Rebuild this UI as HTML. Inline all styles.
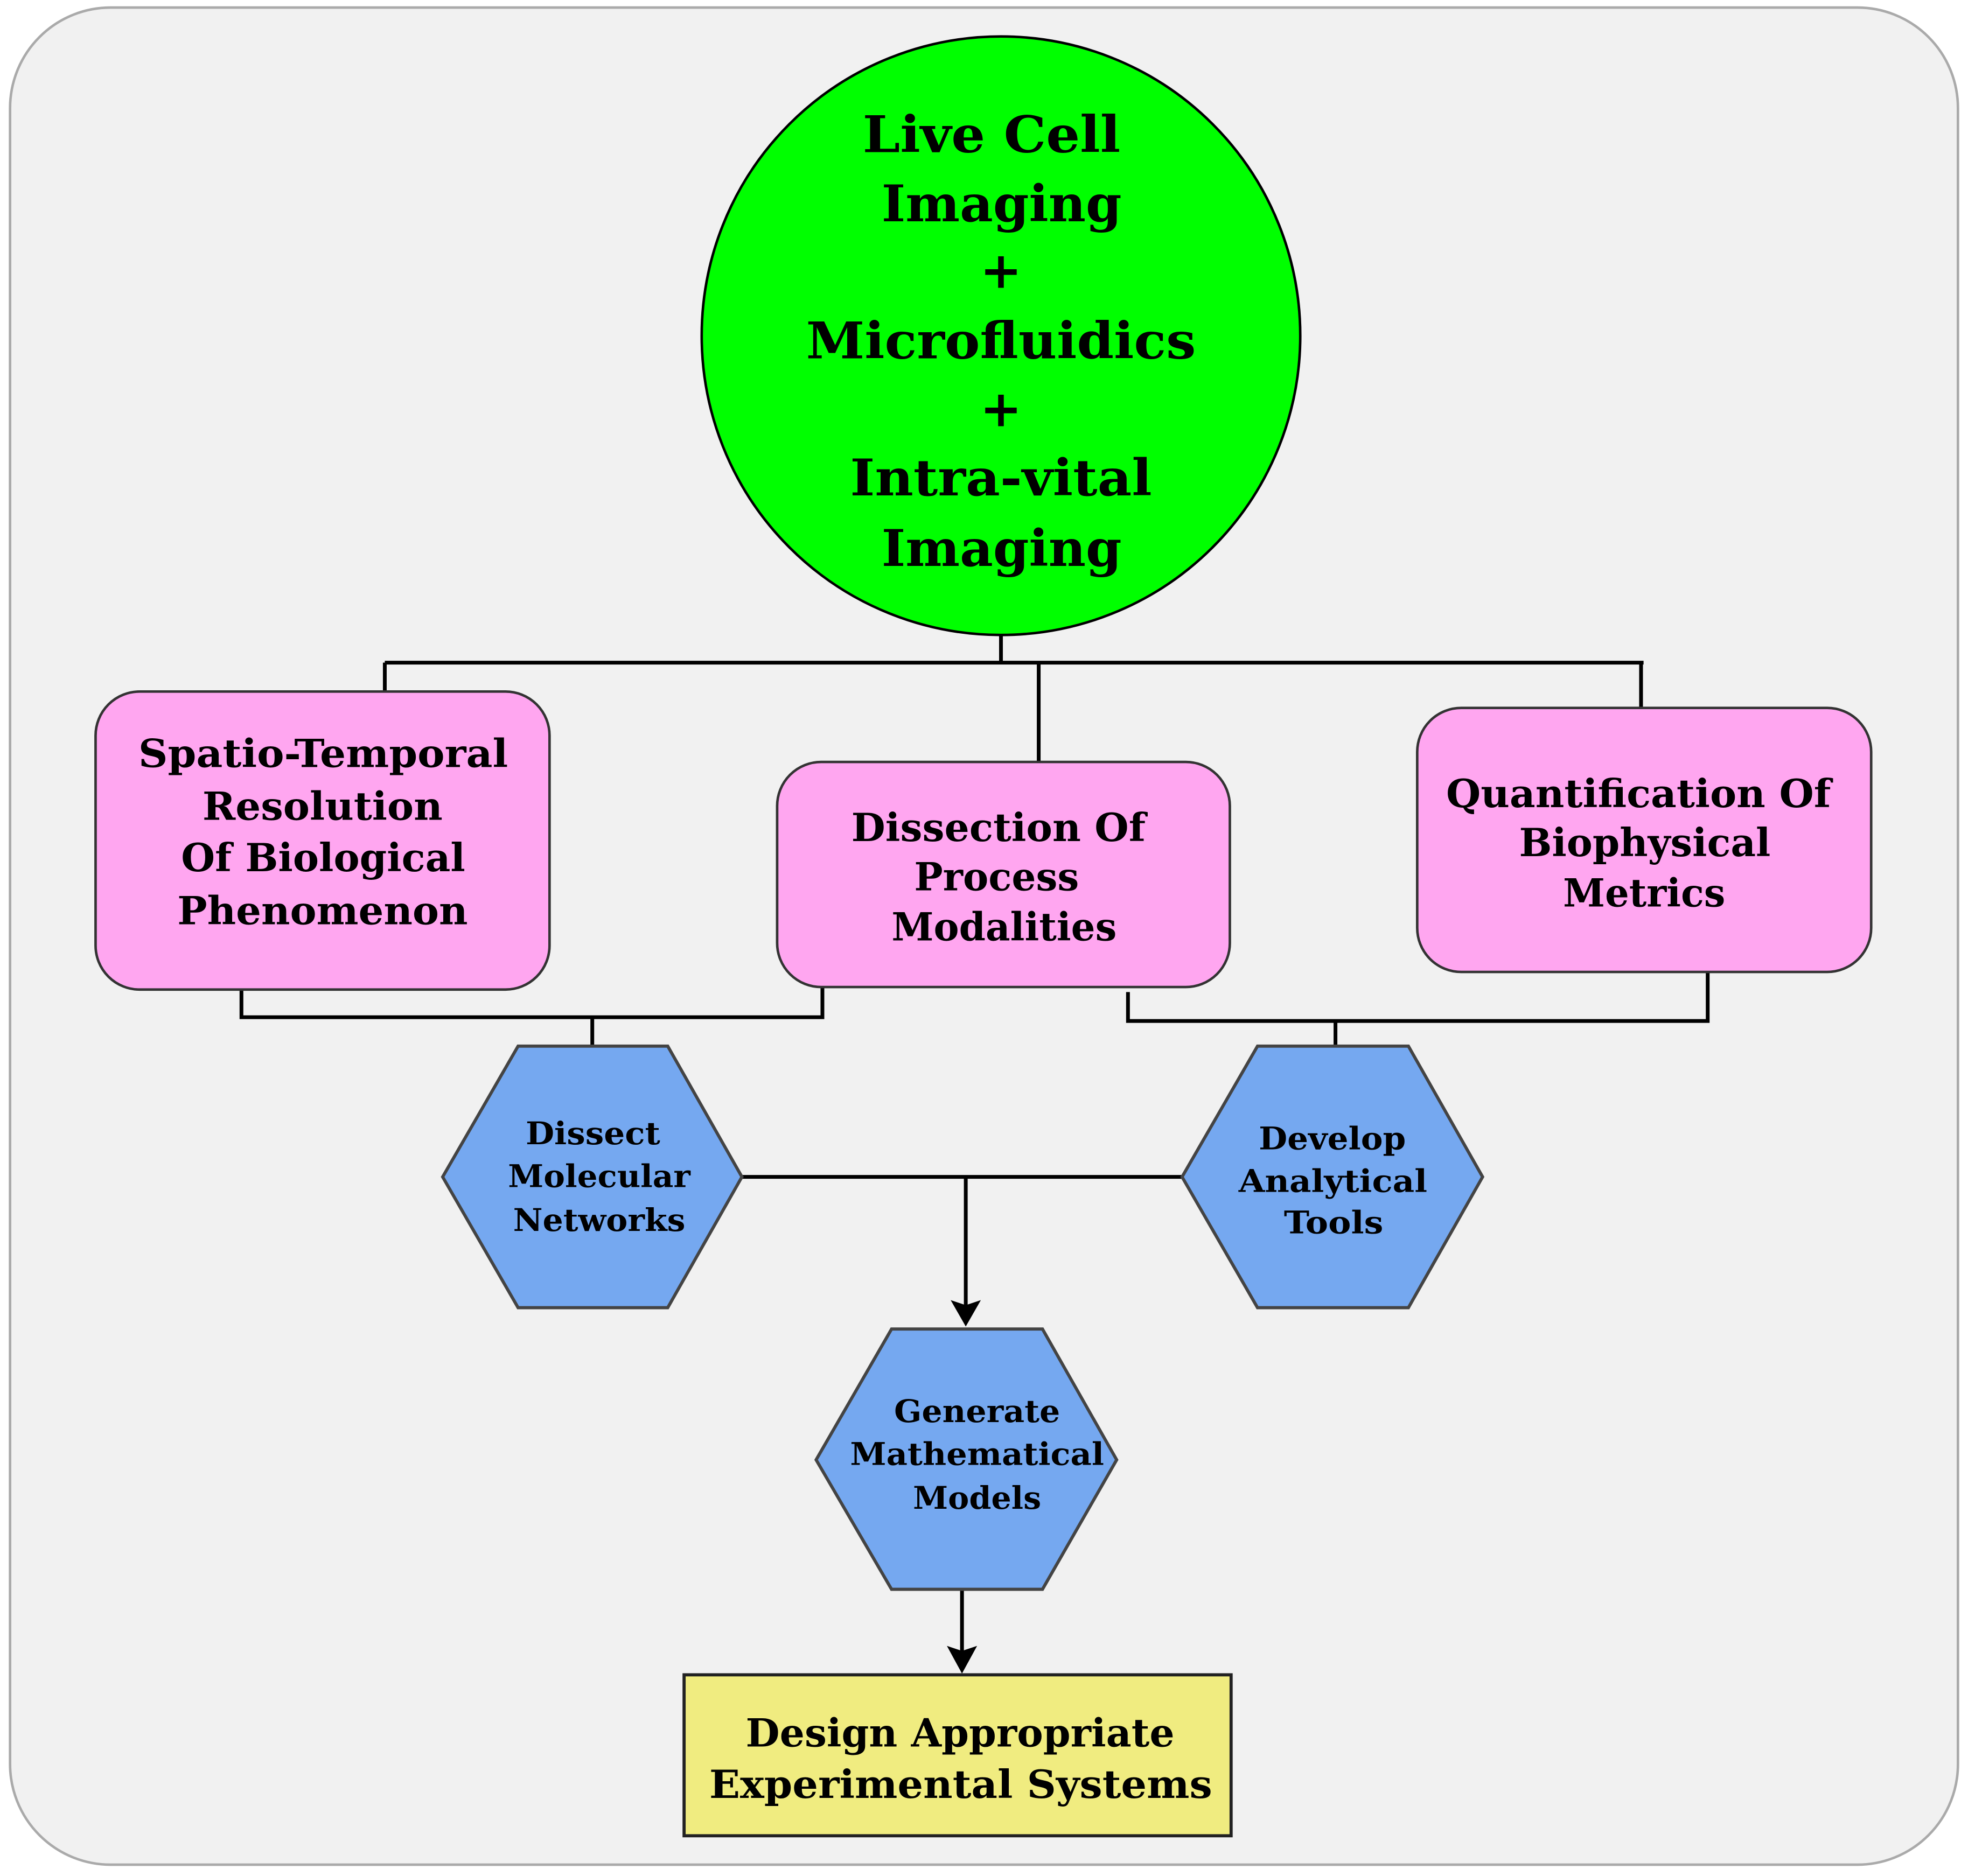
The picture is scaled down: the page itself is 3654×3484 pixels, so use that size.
<!DOCTYPE html>
<html><head><style>html,body{margin:0;padding:0;background:#fff}svg{display:block}</style></head>
<body>
<svg width="3654" height="3484" viewBox="0 0 1565 1492" xmlns="http://www.w3.org/2000/svg" preserveAspectRatio="none">
<rect x="8" y="6" width="1549" height="1477" rx="80" fill="#f1f1f1" stroke="#aaa" stroke-width="2"/>
<g stroke="#000" stroke-width="3" fill="none">
<path d="M796,505 V527 M306,527 H1307 M306,527 V550 M826,527 V606 M1305,527 V563"/>
<path d="M192,787 V809 H654 V785 M471,809 V832"/>
<path d="M897,789 V812 H1358 V773 M1062,812 V832"/>
<path d="M590,936 H940"/>
<path d="M768,936 V1040"/>
<path d="M765,1264 V1316"/>
</g>
<path d="M756,1034 L768,1038 L780,1034 L768,1055 Z" fill="#000"/>
<path d="M753,1309 L765,1313 L777,1309 L765,1331 Z" fill="#000"/>
<circle cx="796" cy="267" r="238" fill="#00ff00" stroke="#000" stroke-width="2"/>
<rect x="76" y="550" width="361" height="237" rx="35" fill="#ffa6f0" stroke="#333" stroke-width="2"/>
<rect x="618" y="606" width="360" height="179" rx="35" fill="#ffa6f0" stroke="#333" stroke-width="2"/>
<rect x="1127" y="563" width="361" height="210" rx="35" fill="#ffa6f0" stroke="#333" stroke-width="2"/>
<g fill="#75a8f0" stroke="#444" stroke-width="2.5">
<polygon points="352,936 412,832 531,832 590,936 531,1040 412,1040"/>
<polygon points="940,936 1000,832 1120,832 1179,936 1120,1040 1000,1040"/>
<polygon points="649,1161 709,1057 829,1057 888,1161 829,1264 709,1264"/>
</g>
<rect x="544" y="1332" width="435" height="128" fill="#f0ec80" stroke="#222" stroke-width="2.5"/>
<g font-family="DejaVu Serif, serif" font-weight="bold" fill="#000" lengthAdjust="spacingAndGlyphs">
<g font-size="40">
<text x="686" y="121" textLength="205" lengthAdjust="spacingAndGlyphs">Live Cell</text>
<text x="701" y="176" textLength="191" lengthAdjust="spacingAndGlyphs">Imaging</text>
<text x="796" y="229" text-anchor="middle">+</text>
<text x="641" y="285" textLength="310" lengthAdjust="spacingAndGlyphs">Microfluidics</text>
<text x="796" y="339" text-anchor="middle">+</text>
<text x="676" y="394" textLength="240" lengthAdjust="spacingAndGlyphs">Intra-vital</text>
<text x="701" y="450" textLength="191" lengthAdjust="spacingAndGlyphs">Imaging</text>
</g>
<g font-size="31">
<text x="110" y="610" textLength="294" lengthAdjust="spacingAndGlyphs">Spatio-Temporal</text>
<text x="161" y="652" textLength="191" lengthAdjust="spacingAndGlyphs">Resolution</text>
<text x="144" y="693" textLength="226" lengthAdjust="spacingAndGlyphs">Of Biological</text>
<text x="141" y="735" textLength="231" lengthAdjust="spacingAndGlyphs">Phenomenon</text>
<text x="677" y="669" textLength="234" lengthAdjust="spacingAndGlyphs">Dissection Of</text>
<text x="727" y="708" textLength="131" lengthAdjust="spacingAndGlyphs">Process</text>
<text x="709" y="748" textLength="179" lengthAdjust="spacingAndGlyphs">Modalities</text>
<text x="1150" y="642" textLength="306" lengthAdjust="spacingAndGlyphs">Quantification Of</text>
<text x="1208" y="681" textLength="200" lengthAdjust="spacingAndGlyphs">Biophysical</text>
<text x="1243" y="721" textLength="129" lengthAdjust="spacingAndGlyphs">Metrics</text>
<text x="593" y="1389" textLength="341" lengthAdjust="spacingAndGlyphs">Design Appropriate</text>
<text x="564" y="1430" textLength="400" lengthAdjust="spacingAndGlyphs">Experimental Systems</text>
</g>
<g font-size="25">
<text x="418" y="910" textLength="107" lengthAdjust="spacingAndGlyphs">Dissect</text>
<text x="404" y="944" textLength="145" lengthAdjust="spacingAndGlyphs">Molecular</text>
<text x="408" y="979" textLength="137" lengthAdjust="spacingAndGlyphs">Networks</text>
<text x="1001" y="914" textLength="117" lengthAdjust="spacingAndGlyphs">Develop</text>
<text x="985" y="948" textLength="150" lengthAdjust="spacingAndGlyphs">Analytical</text>
<text x="1021" y="981" textLength="79" lengthAdjust="spacingAndGlyphs">Tools</text>
<text x="711" y="1131" textLength="132" lengthAdjust="spacingAndGlyphs">Generate</text>
<text x="676" y="1165" textLength="202" lengthAdjust="spacingAndGlyphs">Mathematical</text>
<text x="726" y="1200" textLength="102" lengthAdjust="spacingAndGlyphs">Models</text>
</g>
</g>
</svg>
</body></html>
